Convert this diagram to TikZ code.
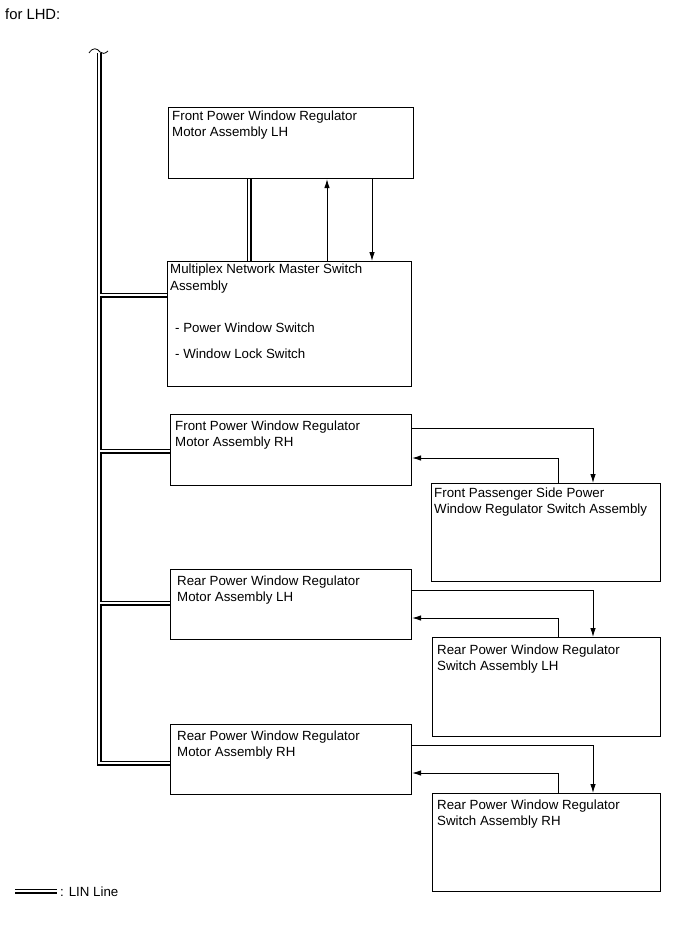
\documentclass[tikz,border=0pt]{standalone}
\usepackage{fontspec}
\setmainfont{Liberation Sans}
\usetikzlibrary{arrows.meta,calc}
\begin{document}
\begin{tikzpicture}[x=1pt,y=-1pt,
  box/.style={draw, line width=1.1pt, anchor=north west, inner sep=0, rectangle},
  lbl/.style={anchor=base west, inner sep=0, font=\fontsize{13.3}{15}\selectfont},
  arr/.style={line width=0.9pt, -{Latex[length=9pt,width=5.5pt]}},
  lin/.style={draw=black, line width=1.6pt, double=white, double distance=1.8pt}
]
\useasboundingbox (0,0) rectangle (691,952);
\node[lbl, font=\fontsize{14.8}{17}\selectfont] (title) at (5,20) {for LHD:};

% boxes
\node[box, minimum width=245pt, minimum height=71pt] (b1) at (168,107) {};
\node[box, minimum width=244pt, minimum height=125pt] (b2) at (167,261) {};
\node[box, minimum width=241pt, minimum height=71pt] (b3) at (170,414) {};
\node[box, minimum width=229pt, minimum height=98pt] (b4) at (431,483) {};
\node[box, minimum width=241pt, minimum height=70pt] (b5) at (170,569) {};
\node[box, minimum width=228pt, minimum height=99pt] (b6) at (432,637) {};
\node[box, minimum width=241pt, minimum height=70pt] (b7) at (170,724) {};
\node[box, minimum width=228pt, minimum height=98pt] (b8) at (432,793) {};

% texts
\node[lbl] (t1a) at (172,121) {Front Power Window Regulator};
\node[lbl] (t1b) at (172,137) {Motor Assembly LH};
\node[lbl] (t2a) at (170,273) {Multiplex Network Master Switch};
\node[lbl] (t2b) at (170,290) {Assembly};
\node[lbl] (t2c) at (175,332) {- Power Window Switch};
\node[lbl] (t2d) at (175,358) {- Window Lock Switch};
\node[lbl] (t3a) at (175,430) {Front Power Window Regulator};
\node[lbl] (t3b) at (175,446) {Motor Assembly RH};
\node[lbl] (t4a) at (434,497) {Front Passenger Side Power};
\node[lbl] (t4b) at (434,513) {Window Regulator Switch Assembly};
\node[lbl] (t5a) at (177,585) {Rear Power Window Regulator};
\node[lbl] (t5b) at (177,601) {Motor Assembly LH};
\node[lbl] (t6a) at (437,654) {Rear Power Window Regulator};
\node[lbl] (t6b) at (437,670) {Switch Assembly LH};
\node[lbl] (t7a) at (177,740) {Rear Power Window Regulator};
\node[lbl] (t7b) at (177,756) {Motor Assembly RH};
\node[lbl] (t8a) at (437,809) {Rear Power Window Regulator};
\node[lbl] (t8b) at (437,825) {Switch Assembly RH};

% bus coordinates
\coordinate (bustop) at (99,53);
\coordinate (busbot) at (99,763);
\coordinate (j2) at (99,295);
\coordinate (j3) at (99,451);
\coordinate (j5) at (99,603);

% LIN lines
\draw[lin] (bustop) -- (busbot) -- (b7.west |- busbot)
  (j2) -- (b2.west |- j2)
  (j3) -- (b3.west |- j3)
  (j5) -- (b5.west |- j5)
  (b1.south -| 249,0) -- (b2.north -| 249,0);
\draw[line width=0.8pt] (89,53) .. controls (93,47) and (97,48) .. (100,52) .. controls (102,54) and (105,54) .. (108,51);

% arrows b1-b2
\draw[arr] (b2.north -| 327,0) -- (b1.south -| 327,0);
\draw[arr] (b1.south -| 372,0) -- (b2.north -| 372,0);

% arrows b3-b4
\draw[arr] (b3.east |- 0,428) -| (b4.north -| 593,0);
\draw[arr] (b4.north -| 558,0) |- (b3.east |- 0,458);
% arrows b5-b6
\draw[arr] (b5.east |- 0,590) -| (b6.north -| 593,0);
\draw[arr] (b6.north -| 558,0) |- (b5.east |- 0,618);
% arrows b7-b8
\draw[arr] (b7.east |- 0,745) -| (b8.north -| 593,0);
\draw[arr] (b8.north -| 558,0) |- (b7.east |- 0,773);

% legend
\coordinate (lg1) at (15,891);
\coordinate (lg2) at (57,891);
\draw[lin] (lg1) -- (lg2);
\node[lbl] (lgt) at (60,896) {: LIN Line};
\end{tikzpicture}
\end{document}
